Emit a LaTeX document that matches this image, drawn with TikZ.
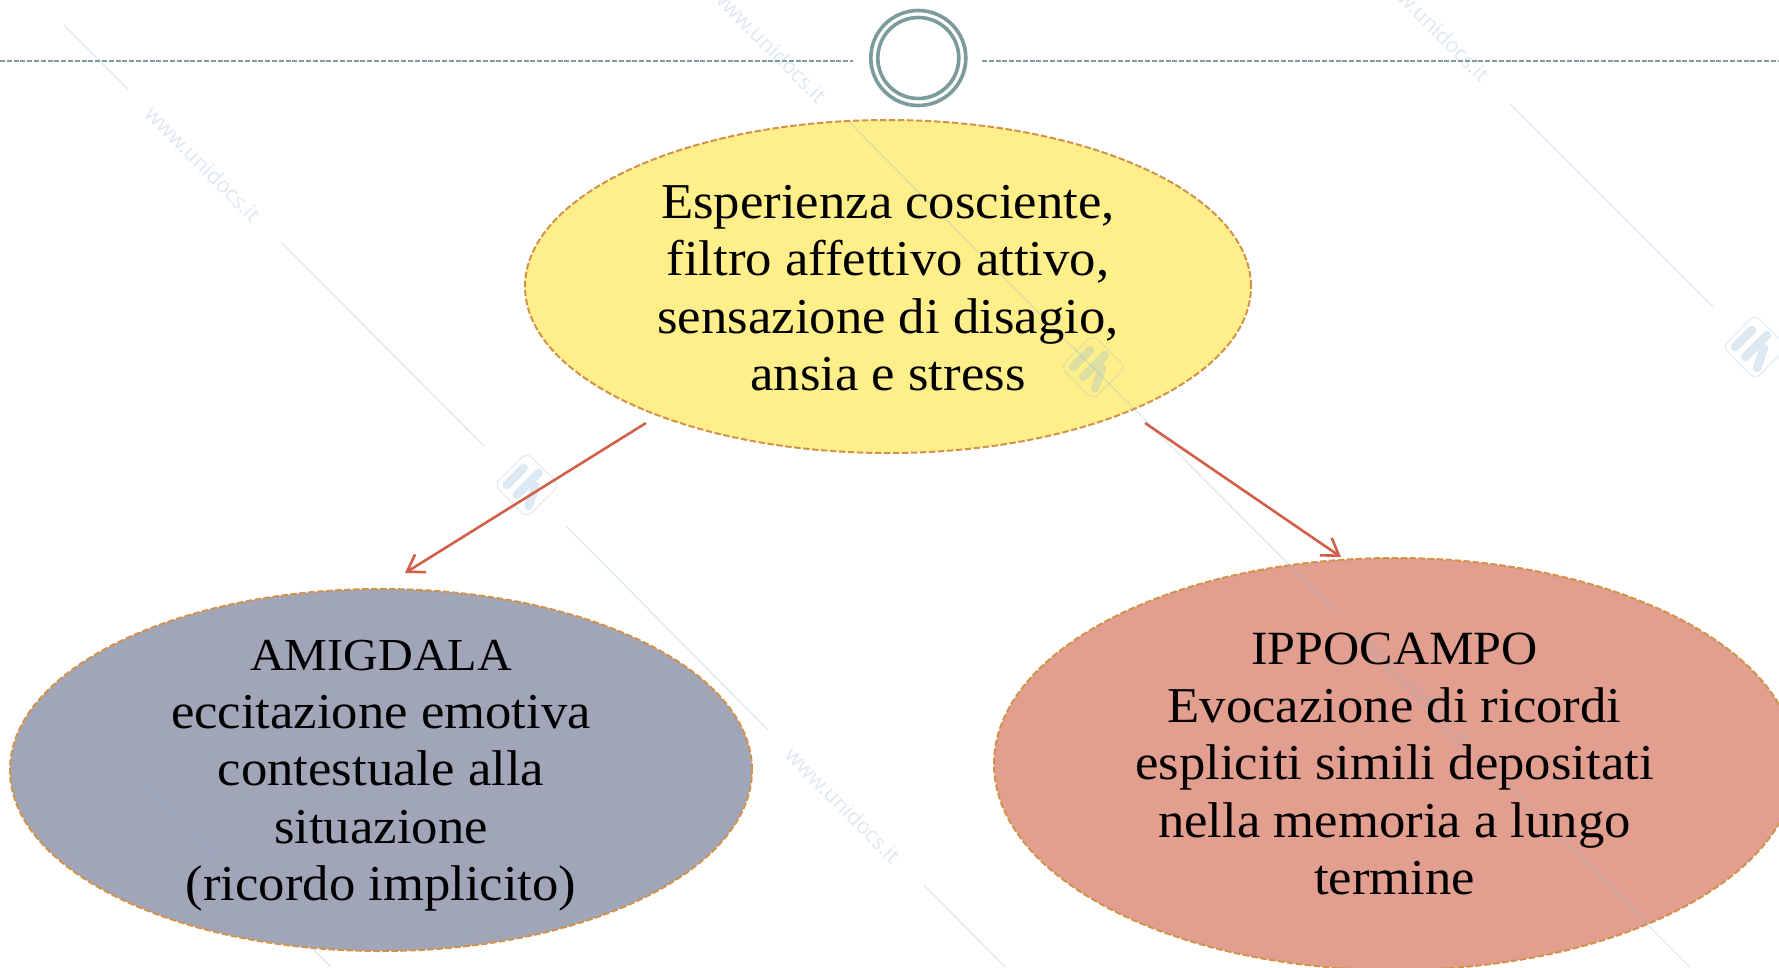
\documentclass[tikz,border=0pt]{standalone}
\usepackage{fontspec}
\setmainfont[FakeStretch=1.05]{Liberation Serif}
\newfontfamily\wmfont{Open Sans}
\usetikzlibrary{arrows.meta,shapes.geometric}
\definecolor{wmblue}{HTML}{8EB9DA}
\definecolor{ruleteal}{HTML}{7B9B9C}
\definecolor{dashorange}{HTML}{D2924A}
\definecolor{arrowred}{HTML}{D1604A}
\definecolor{yellowfill}{HTML}{FFEF8A}
\definecolor{grayfill}{HTML}{A0A5B8}
\definecolor{redfill}{HTML}{E29E8E}
\newcommand{\capsA}{\fontsize{45.8}{57.5}\selectfont}
\newcommand{\capsB}{\fontsize{47.7}{57.5}\selectfont}
\tikzset{
  blob/.style={ellipse,draw=dashorange,line width=2pt,dash pattern=on 6.5pt off 2.5pt,inner sep=0pt,minimum width=#1},
  label/.style={align=center,font=\fontsize{50.2}{57.5}\selectfont,text=black},
  link/.style={draw=arrowred,line width=2.6pt,-{Straight Barb[length=16pt,width=21pt,line width=2.6pt]}},
  wmline/.style={draw=wmblue,line width=1.3pt,opacity=.3},
  wmtext/.style={text=wmblue,text opacity=.3,rotate=-45,font=\wmfont\fontsize{21.5}{22}\selectfont},
  rulebit/.style={draw=ruleteal,line width=2pt,dash pattern=on 5pt off 1.8pt},
  ring/.style={circle,draw=ruleteal,line width=3.6pt,inner sep=0pt,fill=none},
}
\newcommand{\wmlogo}[1]{%
  \begin{scope}[shift={(#1)}]
    \draw[wmblue,line width=1.3pt,rounded corners=7pt,opacity=.25,rotate=45] (-23,-23) rectangle (23,23);
    \draw[wmblue,line width=8.5pt,line cap=round,opacity=.3] (-3,-17) -- (-20,0)
      (12,-12) -- (-10,10) (9,1) -- (2,21);
  \end{scope}}
\begin{document}
\begin{tikzpicture}[x=1pt,y=-1pt]
\useasboundingbox (0,0) rectangle (1779,967);
\clip (0,0) rectangle (1779,967);
\fill[white] (0,0) rectangle (1779,967);
% ellipses
\node[blob=726pt,minimum height=333pt,fill=yellowfill] (exp) at (888,286.5) {};
\node[blob=742pt,minimum height=362pt,fill=grayfill] (ami) at (381,770) {};
\node[blob=802pt,minimum height=412pt,fill=redfill] (ipp) at (1395,764) {};
% watermark
\foreach \a/\b/\c/\d in {64/25/128/89, 281/242/484/446, 566/526/768/730, 849/122/1337/613, 1510/104/1713/307, 63/698/127/763, 281/917/331/967, 924/885/1005/967, 1490/767/1690/967}
  \draw[wmline] (\a,\b) -- (\c,\d);
\node[wmtext] (w1) at (769,45) {www.unidocs.it};
\node[wmtext] (w2) at (203,164) {www.unidocs.it};
\node[wmtext] (w3) at (1432,24) {www.unidocs.it};
\node[wmtext] (w4) at (843,805) {www.unidocs.it};
\node[wmtext] (w5) at (200,838) {www.unidocs.it};
\node[wmtext] (w6) at (1413,688) {www.unidocs.it};
\wmlogo{1093,367}
\wmlogo{526.7,485}
\wmlogo{1755,347}
% header
\coordinate (ruleL0) at (0,61);
\coordinate (ruleL1) at (853,61);
\coordinate (ruleR0) at (982,61);
\coordinate (ruleR1) at (1779,61);
\draw[rulebit] (ruleL0) -- (ruleL1);
\draw[rulebit] (ruleR0) -- (ruleR1);
\node[ring,minimum size=95pt] (ringO) at (918.3,58) {};
\node[ring,minimum size=81pt] (ringI) at (918.3,58) {};
% text
\node[label] (expT) at (888,288) {Esperienza cosciente,\\filtro affettivo attivo,\\sensazione di disagio,\\ansia e stress};
\node[label] (amiT) at (381,776) {{\capsA AMIGDALA}\\eccitazione emotiva\\contestuale alla\\situazione\\(ricordo implicito)};
\node[label] (ippT) at (1394.5,764) {{\capsB IPPOCAMPO}\\Evocazione di ricordi\\espliciti simili depositati\\nella memoria a lungo\\termine};
% connectors
\coordinate (a0) at (646,423);
\coordinate (a1) at (405,573);
\coordinate (b0) at (1145,423);
\coordinate (b1) at (1341,557);
\draw[link] (a0) -- (a1);
\draw[link] (b0) -- (b1);
\end{tikzpicture}
\end{document}
